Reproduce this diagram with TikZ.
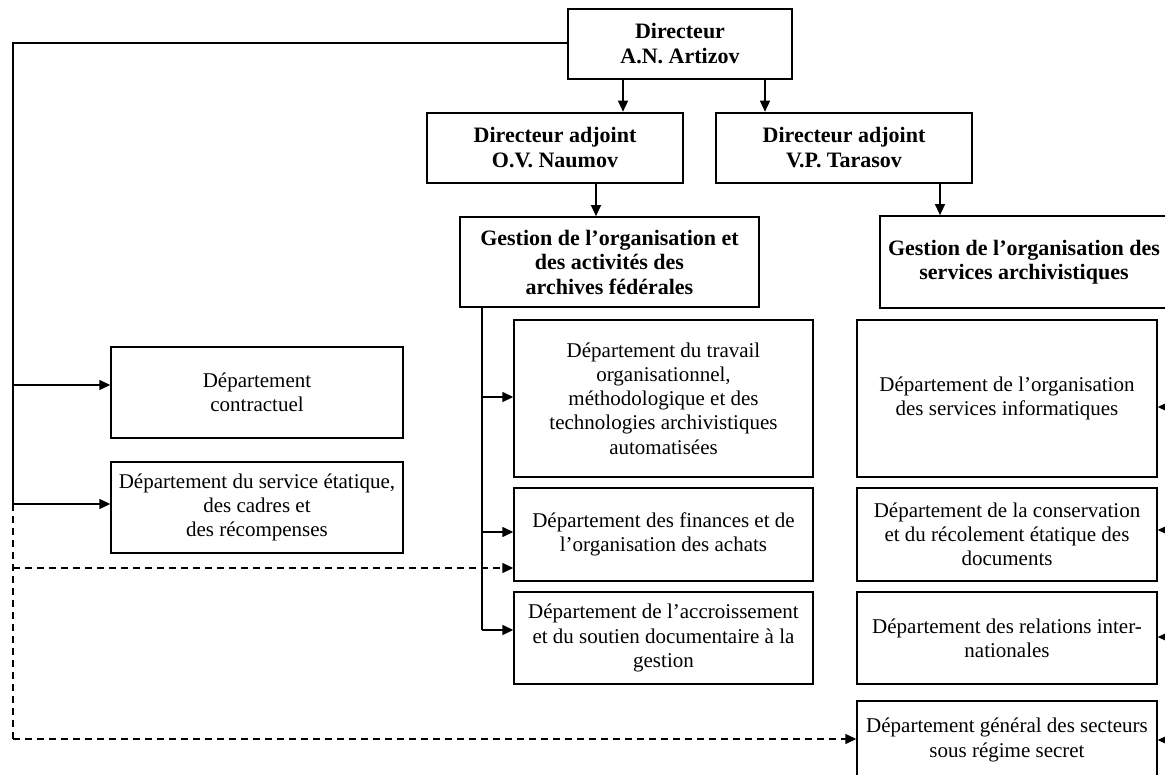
\documentclass[tikz,border=0pt]{standalone}
\usepackage{fontspec}
\setmainfont{Liberation Serif}
\usetikzlibrary{arrows.meta}
\begin{document}
\begin{tikzpicture}[x=1pt,y=-1pt,
  basebox/.style={draw=black,rectangle,inner sep=0pt,align=center,fill=white},
  topbox/.style={basebox,line width=2.6pt,font=\fontsize{22}{25}\selectfont\bfseries},
  gbox/.style={basebox,line width=1.7pt,font=\fontsize{22}{24.5}\selectfont\bfseries},
  dbox/.style={basebox,line width=1.4pt,font=\fontsize{21}{24.2}\selectfont},
  conn/.style={line width=1.4pt,draw=black},
  arr/.style={conn,-{Triangle[length=11pt,width=10pt]}},
  dconn/.style={conn,dash pattern=on 6.5pt off 5.5pt},
  darr/.style={dconn,-{Triangle[length=11pt,width=10pt]}}
]
\useasboundingbox (0,0) rectangle (1165,775);
\fill[white] (0,0) rectangle (1165,775);

% top level
\node[topbox,minimum width=224pt,minimum height=70pt] (dir) at (680,44) {Directeur\\A.N. Artizov};
\node[topbox,minimum width=256pt,minimum height=70pt] (nau) at (555,148) {Directeur adjoint\\O.V. Naumov};
\node[topbox,minimum width=256pt,minimum height=70pt] (tar) at (844,148) {Directeur adjoint\\V.P. Tarasov};

% management
\node[gbox,minimum width=299pt,minimum height=90pt] (g1) at (609.5,262) {Gestion de l’organisation et\\des activités des\\archives fédérales};
\node[gbox,minimum width=288pt,minimum height=92pt] (g2) at (1024,262) {Gestion de l’organisation des\\services archivistiques};

% middle column
\node[dbox,minimum width=299pt,minimum height=157pt] (tra) at (663.5,398.5) {Département du travail\\organisationnel,\\méthodologique et des\\technologies archivistiques\\automatisées};
\node[dbox,minimum width=299pt,minimum height=93pt] (fin) at (663.5,534.5) {Département des finances et de\\l’organisation des achats};
\node[dbox,minimum width=299pt,minimum height=92pt] (acc) at (663.5,638) {Département de l’accroissement\\et du soutien documentaire à la\\gestion};

% right column
\node[dbox,minimum width=300pt,minimum height=157pt] (inf) at (1007,398.5) {Département de l’organisation\\des services informatiques};
\node[dbox,minimum width=300pt,minimum height=93pt] (cons) at (1007,534.5) {Département de la conservation\\et du récolement étatique des\\documents};
\node[dbox,minimum width=300pt,minimum height=92pt] (rel) at (1007,638) {Département des relations inter-\\nationales};
\node[dbox,minimum width=300pt,minimum height=78pt] (gen) at (1007,740) {Département général des secteurs\\sous régime secret};

% left column
\node[dbox,minimum width=292pt,minimum height=91pt] (con) at (257,392.5) {Département\\contractuel};
\node[dbox,minimum width=292pt,minimum height=91pt] (svc) at (257,507.5) {Département du service étatique,\\des cadres et\\des récompenses};

% helper coordinates
\coordinate (a1) at (623,0);
\coordinate (a2) at (765,0);
\coordinate (a3) at (596,0);
\coordinate (a4) at (940,0);
\coordinate (lt) at (13,43);
\coordinate (la) at (13,385);
\coordinate (lb) at (13,504);
\coordinate (lc) at (13,568);
\coordinate (ld) at (13,739);
\coordinate (m0) at (482,0);
\coordinate (m1) at (482,397);
\coordinate (m2) at (482,532);
\coordinate (m3) at (482,630);
\coordinate (r1) at (1172,407);
\coordinate (r2) at (1172,530);
\coordinate (r3) at (1172,637);
\coordinate (r4) at (1172,740);

% top connectors
\draw[arr] (dir.south -| a1) -- (a1 |- nau.north);
\draw[arr] (dir.south -| a2) -- (a2 |- tar.north);
\draw[arr] (nau.south -| a3) -- (a3 |- g1.north);
\draw[arr] (tar.south -| a4) -- (a4 |- g2.north);

% left feed
\draw[conn] (dir.west |- lt) -- (lt) -- (lb);
\draw[arr] (la) -- (la -| con.west);
\draw[arr] (lb) -- (lb -| svc.west);
\draw[dconn] (lb) -- (ld);
\draw[darr] (lc) -- (lc -| fin.west);
\draw[darr] (ld) -- (ld -| gen.west);

% middle feed
\draw[conn] (g1.south -| m0) -- (m3);
\draw[arr] (m1) -- (m1 -| tra.west);
\draw[arr] (m2) -- (m2 -| fin.west);
\draw[arr] (m3) -- (m3 -| acc.west);

% right feed (from beyond the edge)
\draw[arr] (r1) -- (r1 -| inf.east);
\draw[arr] (r2) -- (r2 -| cons.east);
\draw[arr] (r3) -- (r3 -| rel.east);
\draw[arr] (r4) -- (r4 -| gen.east);
\end{tikzpicture}
\end{document}
